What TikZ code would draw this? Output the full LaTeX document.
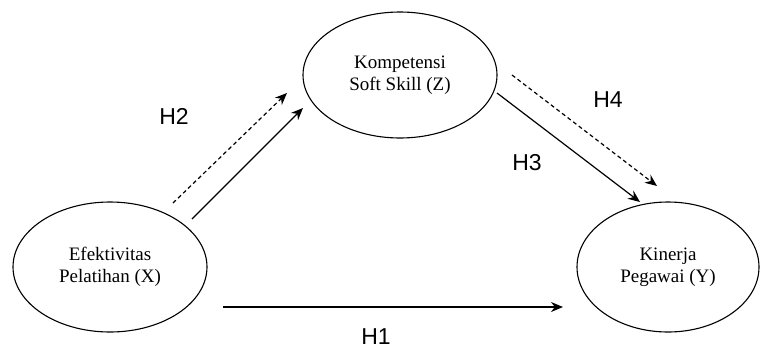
\documentclass[tikz,border=0pt]{standalone}
\usepackage{fontspec}
\setmainfont{Liberation Serif}
\newfontfamily\labfont{Liberation Sans}
\usetikzlibrary{shapes.geometric,arrows.meta}
\begin{document}
\begin{tikzpicture}[x=1pt,y=-1pt,
  var/.style={draw,ellipse,line width=1.1pt,inner sep=0pt,align=center,
    font=\fontsize{19}{22}\selectfont},
  hyp/.style={font=\labfont\fontsize{23}{26}\selectfont,inner sep=0pt},
  conn/.style={line width=1.2pt,-{Stealth[length=12pt,width=10pt]}},
  dconn/.style={conn,dash pattern=on 4pt off 3pt}]
\useasboundingbox (0,0) rectangle (760,349);
\node[var,minimum width=194pt,minimum height=130pt] (x) at (110,267) {Efektivitas\\Pelatihan (X)};
\node[var,minimum width=194pt,minimum height=126pt] (z) at (400,75) {Kompetensi\\Soft Skill (Z)};
\node[var,minimum width=182pt,minimum height=130pt] (y) at (668,267) {Kinerja\\Pegawai (Y)};
% connector end points
\coordinate (h2s) at (192,219);
\coordinate (h2e) at (303,108);
\coordinate (h2ds) at (173,203);
\coordinate (h2de) at (287,93);
\coordinate (h3s) at (497,93);
\coordinate (h3e) at (640,202);
\coordinate (h4s) at (512,75);
\coordinate (h4e) at (657,186);
\coordinate (h1s) at (223,307);
\coordinate (h1e) at (563,307);
\draw[conn] (h2s) -- (h2e);
\draw[dconn] (h2ds) -- (h2de);
\draw[conn] (h3s) -- (h3e);
\draw[dconn] (h4s) -- (h4e);
\draw[conn] (h1s) -- (h1e);
\node[hyp] (l2) at (174,116) {H2};
\node[hyp] (l4) at (608,100) {H4};
\node[hyp] (l3) at (527,163) {H3};
\node[hyp] (l1) at (376,337) {H1};
\end{tikzpicture}
\end{document}
